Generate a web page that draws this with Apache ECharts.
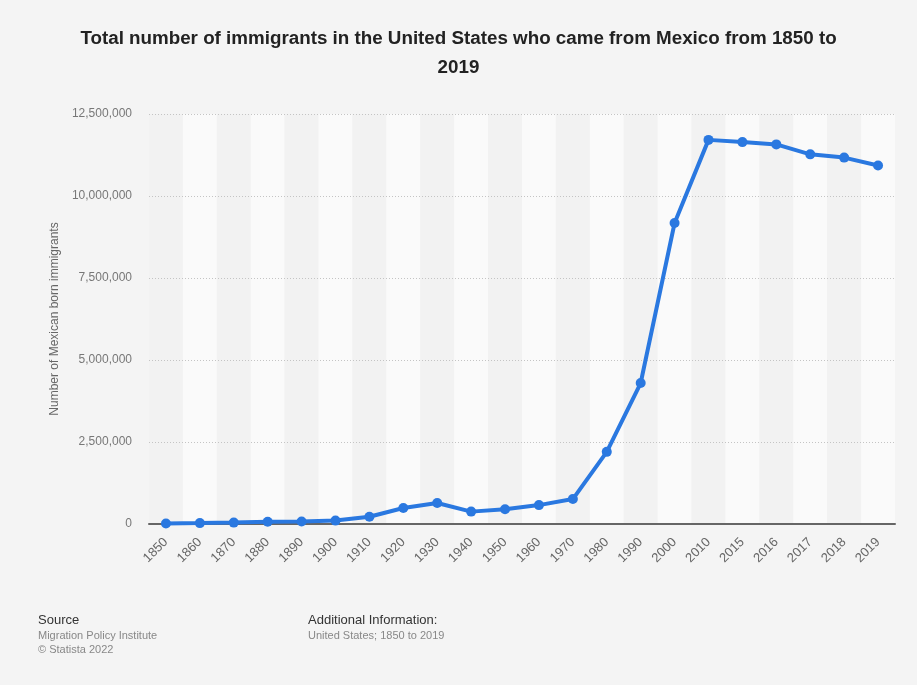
<!DOCTYPE html>
<html>
<head>
<meta charset="utf-8">
<script src="https://cdn.jsdelivr.net/npm/echarts@6/dist/echarts.min.js"></script>
<style>
  html, body { margin: 0; padding: 0; background: #f4f4f4; }
  #chart { width: 917px; height: 685px; }
</style>
</head>
<body>
<div id="chart"></div>
<script>
var years = ["1850", "1860", "1870", "1880", "1890", "1900", "1910", "1920", "1930", "1940", "1950",
  "1960", "1970", "1980", "1990", "2000", "2010", "2015", "2016", "2017", "2018", "2019"];
// Mexican born immigrants
var immigrants = [13300, 27500, 42400, 68400, 77900, 103400, 221900, 486400, 641500, 377400, 451500,
  576000, 760000, 2199000, 4298000, 9177000, 11711000, 11643000, 11573000, 11270000, 11171000, 10931000];
var yTicks = [0, 2500000, 5000000, 7500000, 10000000, 12500000];

var chart = echarts.init(document.getElementById("chart"));

var option = {
  backgroundColor: "#f4f4f4",
  animation: false,
  title: {
    text: "Total number of immigrants in the United States who came from Mexico from 1850 to\n2019",
    left: "center",
    top: 19,
    textStyle: {
      fontFamily: "Liberation Sans",
      fontSize: 18.8,
      fontWeight: "bold",
      color: "#222",
      lineHeight: 29,
      align: "center"
    }
  },
  grid: {
    left: 149,
    right: 22,
    top: 114,
    bottom: 161,
    containLabel: false
  },
  xAxis: {
    type: "category",
    data: years,
    boundaryGap: true,
    axisLine: { lineStyle: { color: "#666", width: 2 } },
    axisTick: { show: false },
    axisLabel: {
      rotate: 45,
      color: "#666",
      fontFamily: "Liberation Sans",
      fontSize: 13,
      margin: 16
    },
    splitArea: {
      show: true,
      areaStyle: { color: ["#f2f2f2", "#fafafa"] }
    }
  },
  yAxis: {
    type: "value",
    z: 1,
    min: yTicks[0],
    max: yTicks[yTicks.length - 1],
    interval: 2500000,
    name: "Number of Mexican born immigrants",
    nameLocation: "middle",
    nameGap: 83,
    nameTextStyle: { color: "#666", fontFamily: "Liberation Sans", fontSize: 12 },
    axisLine: { show: false },
    axisTick: { show: false },
    axisLabel: {
      color: "#777",
      fontFamily: "Liberation Sans",
      fontSize: 12,
      margin: 17,
      formatter: function (v) { return v.toLocaleString("en-US"); }
    },
    splitLine: { showMinLine: false, lineStyle: { color: "#c4c4c4", type: [1, 2], width: 1 } }
  },
  series: [{
    type: "line",
    data: immigrants,
    symbol: "circle",
    symbolSize: 10,
    lineStyle: { color: "#2a78e0", width: 4 },
    itemStyle: { color: "#2a78e0" },
    z: 5
  }],
  graphic: [
    { type: "text", left: 38, top: 614, style: { text: "Source", fill: "#333", font: "13px Liberation Sans" } },
    { type: "text", left: 38, top: 630, style: { text: "Migration Policy Institute", fill: "#888", font: "11px Liberation Sans" } },
    { type: "text", left: 38, top: 644, style: { text: "\u00a9 Statista 2022", fill: "#888", font: "11px Liberation Sans" } },
    { type: "text", left: 308, top: 614, style: { text: "Additional Information:", fill: "#333", font: "13px Liberation Sans" } },
    { type: "text", left: 308, top: 630, style: { text: "United States; 1850 to 2019", fill: "#888", font: "11px Liberation Sans" } }
  ]
};

chart.setOption(option);
</script>
</body>
</html>
